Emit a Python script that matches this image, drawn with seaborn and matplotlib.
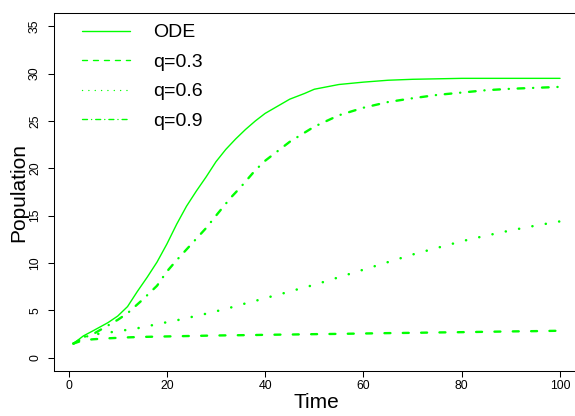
import matplotlib
matplotlib.use("Agg")
import matplotlib.pyplot as plt
from matplotlib.lines import Line2D
import seaborn as sns
import pandas as pd

time_ode = [1, 3, 5, 8, 10, 12, 14, 16, 18, 20, 22, 24, 26, 28, 30, 32, 34, 36,
            38, 40, 43, 45, 48, 50, 55, 60, 65, 70, 75, 80, 90, 100]
ode = [1.5, 2.3, 2.85, 3.7, 4.4, 5.4, 7.0, 8.5, 10.1, 12.0, 14.1, 16.0, 17.6,
       19.1, 20.7, 22.0, 23.1, 24.1, 25.0, 25.8, 26.7, 27.3, 27.9, 28.35, 28.85,
       29.1, 29.3, 29.4, 29.45, 29.5, 29.5, 29.5]
time_q = [1, 3, 5, 8, 10, 12, 15, 18, 20, 22, 25, 28, 30, 33, 35, 38, 40, 43, 45,
          50, 55, 60, 65, 70, 75, 80, 85, 90, 95, 100]
q03 = [1.5, 1.85, 1.95, 2.05, 2.1, 2.15, 2.2, 2.23, 2.25, 2.27, 2.3, 2.33, 2.35,
       2.37, 2.38, 2.4, 2.42, 2.44, 2.45, 2.49, 2.52, 2.56, 2.6, 2.63, 2.67,
       2.7, 2.74, 2.78, 2.81, 2.85]
q06 = [1.5, 2.2, 2.45, 2.65, 2.8, 2.95, 3.2, 3.55, 3.75, 3.95, 4.3, 4.65, 4.9,
       5.3, 5.6, 6.0, 6.3, 6.7, 7.0, 7.7, 8.5, 9.3, 10.1, 10.9, 11.6, 12.3,
       12.9, 13.45, 13.95, 14.4]
q09 = [1.5, 2.1, 2.5, 3.4, 4.0, 4.7, 6.1, 7.6, 9.1, 10.3, 12.0, 13.7, 15.0,
       16.9, 18.0, 19.8, 20.8, 22.0, 22.8, 24.4, 25.6, 26.4, 27.0, 27.4, 27.75,
       28.0, 28.25, 28.4, 28.5, 28.6]
series_names = ["ODE", "q=0.3", "q=0.6", "q=0.9"]
xticks = [0, 20, 40, 60, 80, 100]
yticks = [0, 5, 10, 15, 20, 25, 30, 35]

sns.set_style("ticks", {"axes.edgecolor": "black", "text.color": "black",
                        "axes.labelcolor": "black", "xtick.color": "black",
                        "ytick.color": "black"})
plt.rcParams["font.family"] = ["Liberation Sans", "DejaVu Sans"]
plt.rcParams["lines.scale_dashes"] = False

GREEN = "#00FF00"
df_ode = pd.DataFrame({"Time": time_ode, "ODE": ode})
df_q = pd.DataFrame({"Time": time_q, "q=0.3": q03, "q=0.6": q06, "q=0.9": q09})

fig = plt.figure(figsize=(5.75, 4.16), dpi=100)
ax = fig.add_axes([54 / 575, 45 / 416, 525.5 / 575, 358 / 416])

styles = {
    "ODE": dict(lw=1.0, ls="-"),
    "q=0.3": dict(lw=1.7, ls=(0, (4.3, 8.9))),
    "q=0.6": dict(lw=1.85, ls=(0, (0.07, 9.7))),
    "q=0.9": dict(lw=1.7, ls=(0, (4.8, 6.3, 0.15, 6.3))),
}
for name in series_names:
    data = df_ode if name == "ODE" else df_q
    sns.lineplot(data=data, x="Time", y=name, ax=ax, color=GREEN,
                 linewidth=styles[name]["lw"], legend=False)
    line = ax.lines[-1]
    line.set_linestyle(styles[name]["ls"])
    line.set_solid_capstyle("round")
    line.set_solid_joinstyle("round")
    line.set_dash_capstyle("round")

ax.set_xlim(-2.96, 103.96)
ax.set_ylim(-1.4, 36.4)
ax.set_xticks(xticks)
ax.set_yticks(yticks)
ax.tick_params(axis="both", bottom=True, left=True, direction="out",
               length=4.3, width=0.75, color="black", labelsize=8.8,
               labelcolor="black")
ax.tick_params(axis="x", pad=2.4)
ax.tick_params(axis="y", pad=5, labelrotation=90)
for lab in ax.get_yticklabels():
    lab.set_va("center")
for sp in ax.spines.values():
    sp.set_visible(True)
    sp.set_color("black")
    sp.set_linewidth(0.75)

ax.set_xlabel("Time", fontsize=15)
ax.set_ylabel("Population", fontsize=15)
ax.xaxis.set_label_coords(0.5, -0.088)
ax.xaxis.label.set_va("center")
ax.yaxis.set_label_coords(-0.0666, 0.5)
ax.yaxis.label.set_va("center")

leg_styles = {
    "ODE": "-",
    "q=0.3": (0, (3.6, 4.3)),
    "q=0.6": (0, (0.07, 4.5)),
    "q=0.9": (0, (3.6, 2.9, 0.1, 2.9)),
}
handles = [Line2D([0, 1], [0, 0], color=GREEN, lw=1.0, linestyle=leg_styles[n],
                  solid_capstyle="round", dash_capstyle="round")
           for n in series_names]
ax.legend(handles, series_names, loc="upper left", frameon=False,
          bbox_to_anchor=(0.0533, 0.9698), borderaxespad=0, borderpad=0,
          fontsize=14, handlelength=2.47, handletextpad=1.2, labelspacing=0.61)

fig.savefig("out.png", dpi=100)
